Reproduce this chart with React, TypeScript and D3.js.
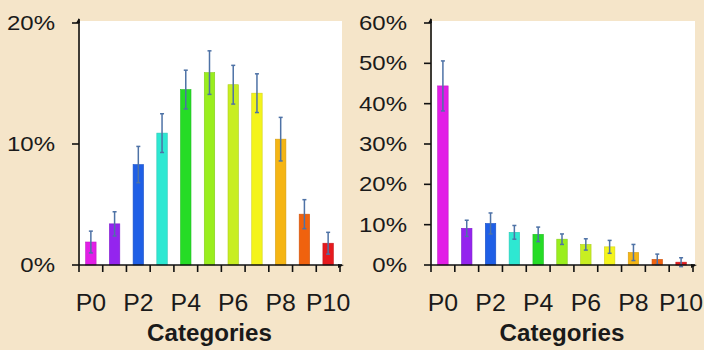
import React from 'react';
import * as d3 from 'd3';

const width = 704;
const height = 350;
const bg = '#f5e5c9';
const errColor = '#4e72a6';
const axisColor = '#111111';

const categories = ['P0', 'P1', 'P2', 'P3', 'P4', 'P5', 'P6', 'P7', 'P8', 'P9', 'P10'];
const tickLabels = ['P0', 'P2', 'P4', 'P6', 'P8', 'P10'];
const barColors = ['#e21ee6', '#9424ee', '#1f5fe6', '#2ee8d2', '#26dc26', '#9aee1e', '#c8ee22', '#f4f41c', '#f5b514', '#f0620e', '#e61a1e'];

// left panel (values in %)
const leftValues = [1.9, 3.4, 8.3, 10.9, 14.5, 15.9, 14.9, 14.2, 10.4, 4.2, 1.8];
const leftErrors = [0.9, 1.0, 1.5, 1.6, 1.6, 1.8, 1.6, 1.6, 1.8, 1.2, 0.9];
const leftTicks = [0, 10, 20];

// right panel (values in %)
const rightValues = [44.4, 9.1, 10.3, 8.1, 7.6, 6.4, 5.1, 4.5, 3.1, 1.4, 0.7];
const rightErrors = [6.2, 2.0, 2.6, 1.7, 1.8, 1.3, 1.4, 1.6, 2.0, 1.3, 1.1];
const rightTicks = [0, 10, 20, 30, 40, 50, 60];

type PanelProps = {
    x0: number;
    x1: number;
    yMax: number;
    values: number[];
    errors: number[];
    ticks: number[];
    plotRight: number;
};

function Panel({x0, x1, yMax, values, errors, ticks, plotRight}: PanelProps) {
    const y0 = 265;
    const yTop = 23;
    const xScale = d3.scaleBand<string>().domain(categories).range([x0, x1]).padding(0);
    const yScale = d3.scaleLinear().domain([0, yMax]).range([y0, yTop]);
    const bw = xScale.bandwidth() * 0.44;
    const boundaries = categories.map(c => xScale(c) as number).concat([x1]);
    const mid = (x0 + x1) / 2;

    return (
        <g>
            <rect x={x0 + 1} y={21} width={plotRight - x0 - 1} height={y0 - 21} fill='#ffffff'/>
            {values.map((v, i) => {
                const cx = (xScale(categories[i]) as number) + xScale.bandwidth() / 2;
                const c = barColors[i];
                return (
                    <g key={i}>
                        <rect x={cx - bw / 2} y={yScale(v)} width={bw} height={y0 - yScale(v)}
                              fill={c} stroke={d3.color(c)!.darker(0.4).toString()} strokeWidth={0.6}/>
                        <line x1={cx} x2={cx} y1={yScale(v - errors[i])} y2={yScale(v + errors[i])}
                              stroke={errColor} strokeWidth={1.5}/>
                        <line x1={cx - 2} x2={cx + 2} y1={yScale(v + errors[i])} y2={yScale(v + errors[i])}
                              stroke={errColor} strokeWidth={1.5}/>
                        <line x1={cx - 2} x2={cx + 2} y1={yScale(v - errors[i])} y2={yScale(v - errors[i])}
                              stroke={errColor} strokeWidth={1.5}/>
                    </g>
                );
            })}
            {/* y axis */}
            <line x1={x0} x2={x0} y1={y0} y2={19} stroke={axisColor} strokeWidth={1.6}/>
            <path d={`M${x0 - 3},${23} L${x0},${18} L${x0 + 1},${23} Z`} fill={axisColor}/>
            {ticks.map(t => (
                <g key={t}>
                    <line x1={x0 - 7} x2={x0} y1={yScale(t)} y2={yScale(t)} stroke={axisColor} strokeWidth={1.6}/>
                    <text transform={`translate(${x0 - 24},${yScale(t) + 7}) scale(1.2,1)`} textAnchor='end'
                          fontFamily='Liberation Sans, Arial, sans-serif' fontSize={20} fill='#1a1a1a'>
                        {t + '%'}
                    </text>
                </g>
            ))}
            {/* x axis */}
            <line x1={x0} x2={x1 + 2} y1={y0} y2={y0} stroke={axisColor} strokeWidth={1.6}/>
            <path d={`M${x1 - 2},${y0 - 1} L${x1 + 4},${y0} L${x1 - 2},${y0 + 3} Z`} fill={axisColor}/>
            {boundaries.map((b, i) => (
                <line key={i} x1={b} x2={b} y1={y0} y2={y0 + 7} stroke={axisColor} strokeWidth={1.6}/>
            ))}
            {tickLabels.map(l => (
                <text key={l} transform={`translate(${(xScale(l) as number) + xScale.bandwidth() / 2},${311}) scale(1.08,1)`}
                      textAnchor='middle' fontFamily='Liberation Sans, Arial, sans-serif' fontSize={23} fill='#1a1a1a'>
                    {l}
                </text>
            ))}
            <text transform={`translate(${mid},${341}) scale(1.05,1)`} textAnchor='middle'
                  fontFamily='Liberation Sans, Arial, sans-serif' fontWeight='bold' fontSize={23} fill='#1a1a1a'>
                Categories
            </text>
        </g>
    );
}

export default function App() {
    return (
        <svg width={width} height={height} style={{position: 'fixed', top: 0, left: 0, display: 'block'}}>
            <rect x={0} y={0} width={width} height={height} fill={bg}/>
            <Panel x0={79} x1={340} yMax={20} values={leftValues} errors={leftErrors} ticks={leftTicks} plotRight={342}/>
            <Panel x0={431} x1={693} yMax={60} values={rightValues} errors={rightErrors} ticks={rightTicks} plotRight={695}/>
        </svg>
    );
}
